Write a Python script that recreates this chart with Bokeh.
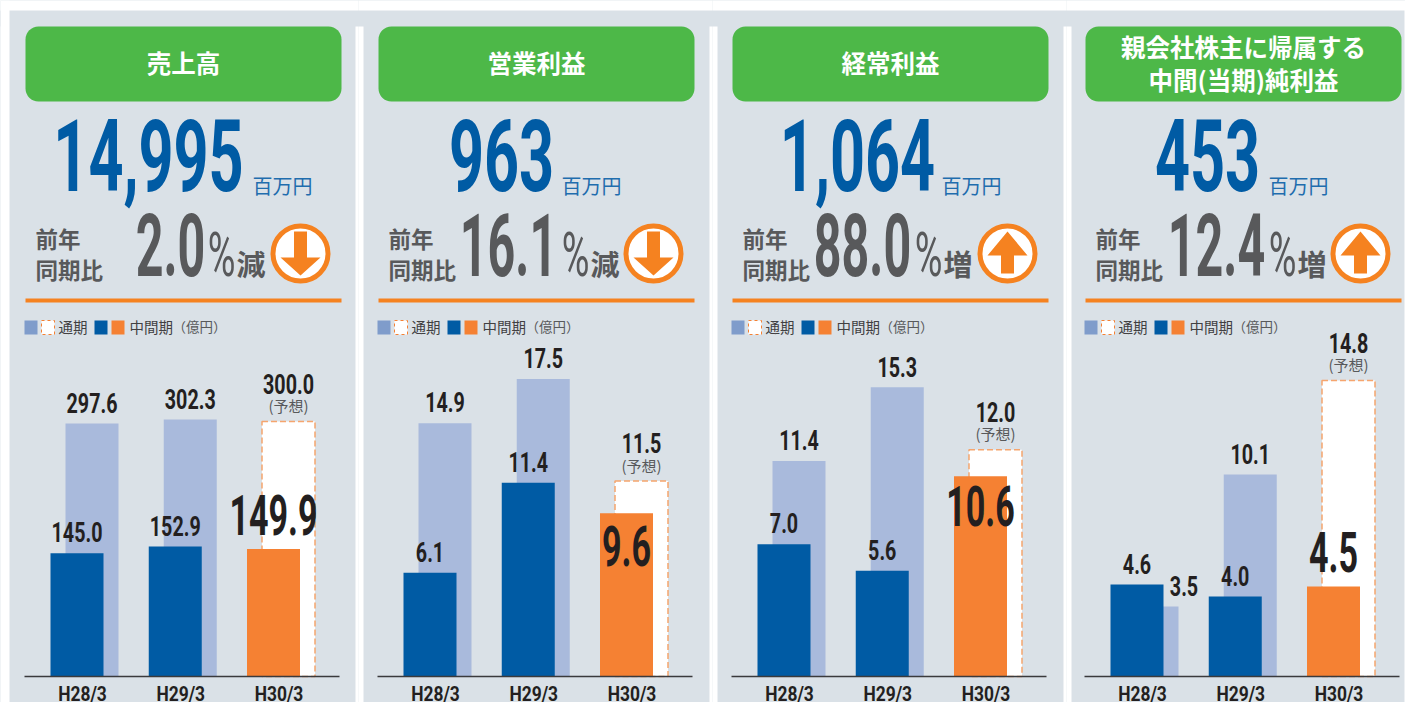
from bokeh.plotting import figure
from bokeh.layouts import row
from bokeh.io import curdoc
from bokeh.models import ColumnDataSource, LinearAxis, FixedTicker, Range1d, CustomJS
from bokeh.core.properties import value
from bokeh.embed import file_html
from bokeh.resources import INLINE

# ---- data ----
periods = ["H28/3", "H29/3", "H30/3"]
titles = [["売上高"], ["営業利益"], ["経常利益"], ["親会社株主に帰属する", "中間(当期)純利益"]]
headline = ["14,995", "963", "1,064", "453"]
yoy = ["2.0", "16.1", "88.0", "12.4"]
yoy_word = ["減", "減", "増", "増"]
annual = [[297.6, 302.3, 300.0], [14.9, 17.5, 11.5], [11.4, 15.3, 12.0], [3.5, 10.1, 14.8]]
interim = [[145.0, 152.9, 149.9], [6.1, 11.4, 9.6], [7.0, 5.6, 10.6], [4.6, 4.0, 4.5]]

# ---- style / layout ----
BG, WHITE, GREEN = "#DAE1E7", "#FFFFFF", "#4DB848"
BLUE, LIGHT, ORANGE, ACCENT = "#005BA4", "#A9BADC", "#F58133", "#F58220"
GRAY, INK, LEG = "#58595B", "#231F20", "#7F9CCB"
DIGIT, CJK = "Roboto", "Noto Sans CJK JP"
PAGE_W, PAGE_H = 1405, 702
BASE = 676
edges = [0, 359, 713, 1067, 1405]
shift = [0, 353, 707, 1060]
px_per_unit = [0.85, 17.0, 18.9, 20.0]
PERIOD = 98.25
LABEL_X = 82
BLUE_DX, LIGHT_DX, BAR_W = -5.5, 9.5, 53
strips = [(355, 363), (709, 717), (1063, 1071)]
head_cx = [148, 501, 857, 1207]
unit_x = [252, 561, 941, 1268]
yoy_cx = [170, 508, 862, 1216]
pct_cx = [221, 575, 928, 1282]
# Horizontal squeeze per digit font size: the source's condensed DIN is not installed.
SIZE_HEAD, SIZE_YOY, SIZE_VAL, SIZE_BIG, SIZE_TICK, SIZE_PCT = 101, 88, 27, 55, 20, 62
squeeze = {SIZE_HEAD: 0.605, SIZE_YOY: 0.55, SIZE_VAL: 0.73, SIZE_BIG: 0.62, SIZE_TICK: 0.87, SIZE_PCT: 0.61}
BASELINE_FIX = 0.40  # em; Bokeh's alphabetic placement sits this much below the anchor
CJK_FIX = 0.09

figs = []
for k in range(4):
    x0, x1 = edges[k], edges[k + 1]
    off = shift[k]
    tick0 = off + LABEL_X
    s = px_per_unit[k]
    fx0 = x0 - 1 if k else x0
    p = figure(
        width=x1 - fx0, height=PAGE_H, output_backend="svg", toolbar_location=None,
        x_axis_type=None, y_axis_type=None, min_border=0,
        x_range=Range1d((fx0 - tick0) / PERIOD, (x1 - tick0) / PERIOD),
        y_range=Range1d(-(PAGE_H - BASE) / s, BASE / s),
        background_fill_color=BG, border_fill_color=BG, outline_line_color=None,
        margin=(0, 0, 0, -1 if k else 0),
    )
    p.grid.visible = False
    p.extra_x_ranges["px"] = Range1d(fx0, x1)
    p.extra_y_ranges["px"] = Range1d(PAGE_H, 0)
    PX = dict(x_range_name="px", y_range_name="px")

    def txt(x, y, t, size, color, font, bold=False, align="left", base="middle"):
        if base == "alphabetic":
            y -= BASELINE_FIX * size
        elif font == CJK:
            y -= CJK_FIX * size
        p.text([x], [y], text=[t], text_font=value(font), text_font_size=f"{size}px",
               text_color=color, text_align=align, text_baseline=base,
               text_font_style="bold" if bold else "normal", **PX)

    # page frame and white strips
    p.quad(left=[fx0 - 2], right=[x1 + 2], top=[10], bottom=[26], color=BG, line_color=None, **PX)
    p.quad(left=[0], right=[PAGE_W], top=[0], bottom=[10], color=WHITE, line_color=None, **PX)
    p.quad(left=[0], right=[9], top=[0], bottom=[PAGE_H], color=WHITE, line_color=None, **PX)
    p.quad(left=[1404], right=[PAGE_W], top=[0], bottom=[PAGE_H], color=WHITE, line_color=None, **PX)
    for a, b in strips:
        p.quad(left=[a], right=[b], top=[26], bottom=[PAGE_H], color=WHITE, line_color=None, **PX)

    # title pill
    pl = 25 + off
    p.quad(left=[pl], right=[pl + 316], top=[26], bottom=[101], color=GREEN, line_color=None,
           border_radius=13, **PX)
    lines = titles[k]
    ys = [64] if len(lines) == 1 else [48, 81]
    for t, y in zip(lines, ys):
        txt(pl + 158, y, t, 24.5, WHITE, CJK, True, "center")

    # headline
    txt(head_cx[k], 195, headline[k], SIZE_HEAD, BLUE, DIGIT, True, "center", "alphabetic")
    txt(unit_x[k], 187, "百万円", 20, "#1F6DAE", CJK)

    # year-on-year
    txt(pl + 10, 240, "前年", 22.5, GRAY, CJK, True)
    txt(pl + 10, 271, "同期比", 22.5, GRAY, CJK, True)
    txt(yoy_cx[k], 279, yoy[k], SIZE_YOY, GRAY, DIGIT, True, "center", "alphabetic")
    txt(pct_cx[k], 279, "%", SIZE_PCT, GRAY, DIGIT, False, "center", "alphabetic")
    txt(pct_cx[k] + 15, 265, yoy_word[k], 29, GRAY, CJK, True)

    # arrow badge
    cx, cy = 300 + [0, 353, 707, 1060][k], 253
    p.circle([cx], [cy], radius=27.5, fill_color=WHITE, line_color=ACCENT, line_width=5, **PX)
    if yoy_word[k] == "減":
        ax = [cx - 6.5, cx + 6.5, cx + 6.5, cx + 20, cx, cx - 20, cx - 6.5]
        ay = [231, 231, 257, 257, 275, 257, 257]
    else:
        ax = [cx - 6.5, cx + 6.5, cx + 6.5, cx + 20, cx, cx - 20, cx - 6.5]
        ay = [273, 273, 255, 255, 231, 255, 255]
    p.patch(ax, ay, color=ACCENT, line_color=None, **PX)

    # divider
    p.quad(left=[pl], right=[pl + 316], top=[298], bottom=[302], color=ACCENT, line_color=None, **PX)

    # legend
    lx = 24 + off
    p.quad(left=[lx], right=[lx + 13], top=[320], bottom=[334], color=LEG, line_color=None, **PX)
    p.quad(left=[lx + 17], right=[lx + 30], top=[320], bottom=[334], fill_color=WHITE,
           line_color=ORANGE, line_dash="3 3", line_width=1, **PX)
    txt(lx + 34, 327, "通期", 14.5, "#414042", CJK)
    p.quad(left=[lx + 70], right=[lx + 83], top=[320], bottom=[334], color=BLUE, line_color=None, **PX)
    p.quad(left=[lx + 87], right=[lx + 100], top=[320], bottom=[334], color=ORANGE, line_color=None, **PX)
    txt(lx + 105, 327, "中間期", 14.5, "#414042", CJK)
    txt(lx + 148, 327, "（億円）", 13.5, GRAY, CJK)

    # bars
    idx = [0, 1, 2]
    a_vals, i_vals = annual[k], interim[k]
    lx_pos = [i + LIGHT_DX / PERIOD for i in idx]
    bx_pos = [i + BLUE_DX / PERIOD for i in idx]
    w = BAR_W / PERIOD
    p.vbar(x=lx_pos[:2], top=a_vals[:2], bottom=0, width=w, fill_color=LIGHT, line_color=None)
    p.vbar(x=lx_pos[2:], top=a_vals[2:], bottom=0, width=w, fill_color=WHITE,
           line_color="#F5A56E", line_dash="6 3", line_width=1.5)
    p.vbar(x=bx_pos[:2], top=i_vals[:2], bottom=0, width=w, fill_color=BLUE, line_color=None)
    p.vbar(x=bx_pos[2:], top=i_vals[2:], bottom=0, width=w, fill_color=ORANGE, line_color=None)

    # axis
    ax_line = LinearAxis(
        ticker=FixedTicker(ticks=idx), fixed_location=0,
        major_label_overrides={i: t for i, t in zip(idx, periods)},
        major_tick_line_color=None, minor_tick_line_color=None,
        axis_line_color="#3A3A3C", axis_line_width=1.5,
        major_label_text_font=DIGIT, major_label_text_font_size=f"{SIZE_TICK}px",
        major_label_text_font_style="bold",
        major_label_text_color=INK, major_label_standoff=0,
        bounds=((24 + off - tick0) / PERIOD, (339 + off - tick0) / PERIOD),
    )
    p.add_layout(ax_line, "below")

    # annual labels
    fix_val = BASELINE_FIX * SIZE_VAL
    a_dx = [0, 0, 0]
    if k == 3:
        a_dx[0] = 32
    a_src = ColumnDataSource(dict(
        x=lx_pos, y=a_vals, t=[f"{v:.1f}" for v in a_vals],
        dx=a_dx, dy=[-10 - fix_val, -10 - fix_val, -27 - fix_val],
    ))
    p.text(x="x", y="y", text="t", source=a_src, x_offset="dx", y_offset="dy",
           text_font=value(DIGIT), text_font_size=f"{SIZE_VAL}px", text_font_style="bold",
           text_color=INK, text_align="center", text_baseline="alphabetic")
    p.text(x=lx_pos[2:], y=a_vals[2:], text=["(予想)"], y_offset=-16, text_font=value(CJK),
           text_font_size="15px", text_color=GRAY, text_align="center", text_baseline="middle")

    # interim labels
    i_src = ColumnDataSource(dict(
        x=bx_pos[:2], y=i_vals[:2], t=[f"{v:.1f}" for v in i_vals[:2]], dy=[-10 - fix_val, -10 - fix_val],
    ))
    p.text(x="x", y="y", text="t", source=i_src, y_offset="dy",
           text_font=value(DIGIT), text_font_size=f"{SIZE_VAL}px", text_font_style="bold",
           text_color=INK, text_align="center", text_baseline="alphabetic")
    big_dy = [-12, 55, 52, -13][k] - BASELINE_FIX * SIZE_BIG
    p.text(x=bx_pos[2:], y=i_vals[2:], text=[f"{i_vals[2]:.1f}"], y_offset=big_dy,
           text_font=value(DIGIT), text_font_size=f"{SIZE_BIG}px", text_font_style="bold",
           text_color=INK, text_align="center", text_baseline="alphabetic")

    figs.append(p)

root = row(*figs, spacing=0)

squeeze_js = CustomJS(args=dict(ratios={str(k): v for k, v in squeeze.items()}), code="""
const walk = (node, out) => {
  node.querySelectorAll('*').forEach((el) => {
    if (el.shadowRoot) walk(el.shadowRoot, out)
    if (el.tagName.toLowerCase() === 'text') out.push(el)
  })
  return out
}
const apply = () => {
  for (const el of walk(document, [])) {
    if (el.getAttribute('data-sx')) continue
    const cs = getComputedStyle(el)
    if (!cs.fontFamily.includes('Roboto')) continue
    const r = ratios[String(Math.round(parseFloat(cs.fontSize)))]
    if (!r) continue
    const b = el.getBBox()
    const c = b.x + b.width / 2
    const prev = el.getAttribute('transform') || ''
    el.setAttribute('transform', `${prev} translate(${c},0) scale(${r},1) translate(${-c},0)`)
    el.setAttribute('data-sx', String(r))
  }
}
const t0 = Date.now()
const tick = () => { apply(); if (Date.now() - t0 < 5000) requestAnimationFrame(tick) }
tick()
""")
doc = curdoc()
doc.add_root(root)
doc.js_on_event("document_ready", squeeze_js)
open("out.html", "w").write(file_html(root, INLINE))
